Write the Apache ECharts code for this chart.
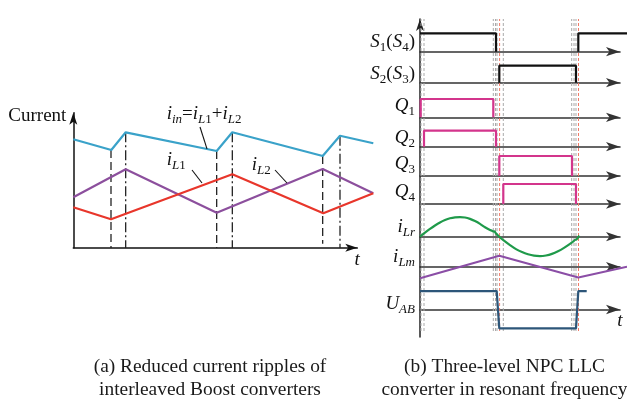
<!DOCTYPE html>
<html><head><meta charset="utf-8">
<script src="https://cdn.jsdelivr.net/npm/echarts@6/dist/echarts.min.js"></script>
<style>html,body{margin:0;padding:0;background:#fff}#c{width:627px;height:400px}</style>
</head><body><div id="c"></div>
<script>
// ===== Panel (a): interleaved Boost currents (arbitrary time / current units)
const aAxisMax = 284, aDataMax = 300, aCurMax = 135;
const iinT  = [0, 38, 52.4, 143.4, 159, 249.4, 266.7, 300];
const iinV  = [108.4, 97.7, 115.4, 96.7, 115.4, 91.7, 112, 104.4];
const iL2T  = [0, 52.4, 143.4, 249.4, 300];
const iL2V  = [50.4, 78.4, 35, 78.7, 54.4];
const iL1T  = [0, 37.7, 159, 250, 300];
const iL1V  = [40.4, 28.4, 73.4, 34.4, 54.4];
const valleyT   = [37.7, 143.4, 249.4];
const valleyTop = [97.7, 96.7, 91.7];
const valleyBot = [0, 0, 4];
const peakT   = [52.4, 159, 266.7];
const peakTop = [115.4, 115.4, 112];
const leaderIin = [[126.7, 120.7], [133.7, 98.8]];
const leaderL1  = [[118.7, 77.7], [128.7, 64.7]];
const leaderL2  = [[201.7, 77.7], [213.7, 64.7]];

// ===== Panel (b): three-level NPC LLC waveforms (time units)
const bAxisMax = 200, bDataMax = 207, bVertMax = 318;
const s1Seg1 = [[0,1],[76,1],[76,0]];
const s1Seg2 = [[158.3,0],[158.3,1],[207,1]];
const s2Seg  = [[79.3,0],[79.3,1],[156,1],[156,0]];
const q1Seg  = [[0.7,0],[0.7,1],[73.3,1],[73.3,0]];
const q2Seg  = [[4,0],[4,1],[76,1],[76,0]];
const q3Seg  = [[79.3,0],[79.3,1],[152,1],[152,0]];
const q4Seg  = [[83.3,0],[83.3,1],[156,1],[156,0]];
const iLrT = [0,5,10,15,20,25,30,35,40,45,50,55,60,65,70,72,73.5,74.5,76,79.3,84,90,96,102,108,114,120,126,132,138,144,150,153,155,156.5,159.3];
const iLrV = [0,0.2,0.39,0.56,0.71,0.83,0.92,0.97,0.98,0.96,0.89,0.78,0.64,0.47,0.33,0.3,0.25,0.27,0.16,0,-0.2,-0.42,-0.62,-0.77,-0.88,-0.95,-0.97,-0.94,-0.86,-0.73,-0.56,-0.36,-0.25,-0.16,-0.14,0.05];
const iLmT = [0, 79.3, 158.3, 207];
const iLmV = [-1.05, 1.0, -0.98, 0];
const uabT = [0, 76.7, 79.3, 156, 158.3, 166.7];
const uabV = [0.94, 0.94, -0.97, -0.97, 0.94, 0.94];
const grayGuideT = [1, 4, 73.3, 75.5, 77, 83.3, 151.7, 154, 156];
const redGuideT  = [79.6, 158.5];
const guideY = [6, 318];

// rows of panel (b): [top, height, ymin, ymax]
const rowLayout = [
  [33.3,18.4,0,1],[65.7,17,0,1],[99,18.3,0,1],[130.7,16,0,1],[156,20,0,1],[184,20,0,1],
  [216.7,40,-1,1],[254.6,24.2,-1.1,1.1],[290,39,-1,1]
];

const F = '"Liberation Serif","Times New Roman",serif';
const INK = '#111';
const C = {blue:'#3aa2c9', purple:'#8c4f9d', red:'#e8362b', mag:'#d3358c', green:'#1f9a4a', lm:'#8b4ea6', uab:'#2d5679'};
const hidden = {show:false};
const noDeco = {axisTick:hidden, axisLabel:hidden, splitLine:hidden};
const arrowLine = (size, color, width) => ({show:true, onZero:true, symbol:['none','arrow'], symbolSize:size, lineStyle:{color, width}});

const grids = [], xAxes = [], yAxes = [];
function addGrid(g, x, y) {
  const gi = grids.length;
  grids.push(g);
  xAxes.push(Object.assign({gridIndex:gi, type:'value'}, x));
  yAxes.push(Object.assign({gridIndex:gi, type:'value'}, y));
  return gi;
}
// panel (a) axes grid and data grid
addGrid({left:73.3, top:112.7, width:aAxisMax, height:aCurMax},
  Object.assign({min:0, max:aAxisMax, axisLine:arrowLine([6,12], INK, 1.5)}, noDeco),
  Object.assign({min:0, max:aCurMax, axisLine:arrowLine([6,12], INK, 1.5)}, noDeco));
const gA = addGrid({left:73.3, top:112.7, width:aDataMax, height:aCurMax},
  {min:0, max:aDataMax, show:false}, {min:0, max:aCurMax, show:false});
// panel (b) vertical axis grid (also hosts guide lines)
const gB = addGrid({left:420, top:19, width:bDataMax, height:bVertMax},
  {min:0, max:bDataMax, show:false},
  Object.assign({min:0, max:bVertMax, axisLine:arrowLine([6,12], '#222', 1.5)}, noDeco));
const rowData = rowLayout.map(r => {
  addGrid({left:420, top:r[0], width:bAxisMax, height:r[1]},
    Object.assign({min:0, max:bAxisMax, axisLine:arrowLine([7,14], '#333', 1.6)}, noDeco),
    {min:r[2], max:r[3], show:false});
  return addGrid({left:420, top:r[0], width:bDataMax, height:r[1]},
    {min:0, max:bDataMax, show:false}, {min:r[2], max:r[3], show:false});
});

const series = [];
function line(gi, data, color, width, type, z, smooth) {
  series.push({type:'line', xAxisIndex:gi, yAxisIndex:gi, data, symbol:'none', clip:false, silent:true,
    smooth:smooth||false, lineStyle:{color, width, type:type||'solid'}, z:z||3});
}
const zip = (a, b) => a.map((t, i) => [t, b[i]]);

// panel (a)
valleyT.forEach((t,i) => line(gA, [[t,valleyTop[i]],[t,valleyBot[i]]], INK, 1.2, [8,4], 2));
peakT.forEach((t,i) => line(gA, [[t,peakTop[i]],[t,0]], INK, 1.2, [10,3,2,3], 2));
line(gA, zip(iinT, iinV), C.blue, 2.2);
line(gA, zip(iL2T, iL2V), C.purple, 2.2);
line(gA, zip(iL1T, iL1V), C.red, 2.2);
[leaderIin, leaderL1, leaderL2].forEach(l => line(gA, l, INK, 1.1));

// panel (b) guides
grayGuideT.forEach(t => line(gB, [[t,guideY[0]],[t,guideY[1]]], '#a9a9a9', 1, [3,2], 1));
redGuideT.forEach(t => line(gB, [[t,guideY[0]],[t,guideY[1]]], '#f07a68', 1, [3,2], 1));
// waveforms
line(rowData[0], s1Seg1, INK, 2.2); line(rowData[0], s1Seg2, INK, 2.2);
line(rowData[1], s2Seg, INK, 2.2);
line(rowData[2], q1Seg, C.mag, 2.2);
line(rowData[3], q2Seg, C.mag, 2.2);
line(rowData[4], q3Seg, C.mag, 2.2);
line(rowData[5], q4Seg, C.mag, 2.2);
line(rowData[6], zip(iLrT, iLrV), C.green, 2.2, 'solid', 3, 0.3);
line(rowData[7], zip(iLmT, iLmV), C.lm, 2.2);
line(rowData[8], zip(uabT, uabV), C.uab, 2.2);

// ===== text labels
const rich = {
  m:{fontFamily:F, fontSize:19, fontStyle:'italic', lineHeight:21, verticalAlign:'top', fill:INK},
  r:{fontFamily:F, fontSize:19, fontStyle:'normal', lineHeight:21, verticalAlign:'top', fill:INK},
  s:{fontFamily:F, fontSize:13, fontStyle:'italic', lineHeight:13, padding:[8.5,0,0,0], verticalAlign:'top', fill:INK},
  n:{fontFamily:F, fontSize:13, fontStyle:'normal', lineHeight:13, padding:[8.5,0,0,0], verticalAlign:'top', fill:INK}
};
const rightLabels = [
  ['{m|S}{n|1}{r|(}{m|S}{n|4}{r|)}', 32.8],
  ['{m|S}{n|2}{r|(}{m|S}{n|3}{r|)}', 64.1],
  ['{m|Q}{n|1}', 96.8],
  ['{m|Q}{n|2}', 128.1],
  ['{m|Q}{n|3}', 154.1],
  ['{m|Q}{n|4}', 182.4],
  ['{m|i}{s|Lr}', 217.2],
  ['{m|i}{s|Lm}', 247.2],
  ['{m|U}{s|AB}', 294.6]
];
const graphic = [];
rightLabels.forEach(l => graphic.push({type:'text', x:415, y:l[1], silent:true,
  style:{text:l[0], rich, align:'right', verticalAlign:'top', fill:INK}}));
const leftLabels = [
  ['{r|Current}', 8.3, 106.6],
  ['{m|i}{s|in}{r|=}{m|i}{s|L}{n|1}{r|+}{m|i}{s|L}{n|2}', 166.7, 104.3],
  ['{m|i}{s|L}{n|1}', 166.7, 150.9],
  ['{m|i}{s|L}{n|2}', 251.7, 155.3],
  ['{m|t}', 354.5, 250.3],
  ['{m|t}', 617.3, 311.9]
];
leftLabels.forEach(l => graphic.push({type:'text', x:l[1], y:l[2], silent:true,
  style:{text:l[0], rich, align:'left', verticalAlign:'top', fill:INK}}));
const captions = [
  ['(a) Reduced current ripples of\ninterleaved Boost converters', 210],
  ['(b) Three-level NPC LLC\nconverter in resonant frequency', 504.5]
];
captions.forEach(c => graphic.push({type:'text', x:c[1], y:356, silent:true,
  style:{text:c[0], font:'19.4px ' + F, lineHeight:22.5, align:'center', verticalAlign:'top', fill:'#1a1a1a'}}));

const chart = echarts.init(document.getElementById('c'), null, {renderer:'canvas'});
chart.setOption({animation:false, backgroundColor:'#fff', grid:grids, xAxis:xAxes, yAxis:yAxes, series, graphic});
</script></body></html>
